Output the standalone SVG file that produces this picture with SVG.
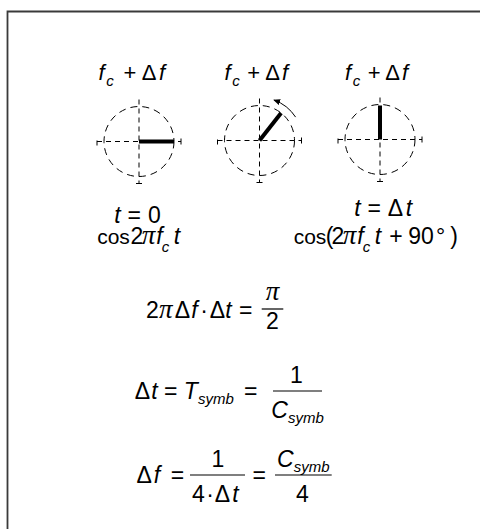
<svg xmlns="http://www.w3.org/2000/svg" width="480" height="529" viewBox="0 0 480 529">
<style>
text{font-family:"Liberation Sans",Arial,sans-serif;font-size:23px;fill:#000;text-anchor:middle}
.i{font-style:italic}
.s{font-size:15px}
.l{font-size:22px}
.c{font-size:21px}
.p{font-family:"Liberation Serif","Times New Roman",serif;font-style:italic;font-size:27px}
.st{text-anchor:start}
.ax{stroke:#000;stroke-width:1;stroke-dasharray:5 4;fill:none}
.cr{stroke:#000;stroke-width:1;stroke-dasharray:7 5;fill:none}
.tk{stroke:#000;stroke-width:1}
.ph{stroke:#000;stroke-width:4}
.bar{stroke:#000;stroke-width:1.2}
</style>
<defs>
<marker id="ah" markerWidth="8" markerHeight="8" refX="6" refY="4" orient="auto" markerUnits="userSpaceOnUse">
<path d="M0,1 L7,4 L0,7 Z" fill="#000"/>
</marker>
<g id="axes">
<line class="ax" x1="-42" y1="0" x2="42" y2="0"/>
<line class="ax" x1="0" y1="-42" x2="0" y2="42"/>
<line class="tk" x1="-42" y1="-1" x2="-42" y2="4"/>
<line class="tk" x1="42" y1="-3" x2="42" y2="3"/>
<line class="tk" x1="-3" y1="42" x2="3" y2="42"/>
<circle class="cr" cx="0" cy="0" r="35"/>
</g>
</defs>
<path d="M7.5 529 V11.5 H480" fill="none" stroke="#3a3a3a" stroke-width="1.8"/>

<g id="label1">
<text class="l i" x="101.5" y="80">f</text><text class="s i" x="110" y="86">c</text><text class="l" x="130" y="80">+</text><text class="l" x="149.2" y="80">Δ</text><text class="l i" x="162" y="80">f</text>
</g>
<g id="label2">
<text class="l i" x="227.5" y="80">f</text><text class="s i" x="236" y="86">c</text><text class="l" x="253.8" y="80">+</text><text class="l" x="272.5" y="80">Δ</text><text class="l i" x="285" y="80">f</text>
</g>
<g id="label3">
<text class="l i" x="348" y="80">f</text><text class="s i" x="356.5" y="86">c</text><text class="l" x="374.2" y="80">+</text><text class="l" x="392.5" y="80">Δ</text><text class="l i" x="405" y="80">f</text>
</g>

<g id="phasor1" transform="translate(139,141.5)">
<use href="#axes"/>
<line class="ph" x1="0" y1="0" x2="35" y2="0"/>
</g>
<g id="phasor2" transform="translate(259.5,140.5)">
<use href="#axes"/>
<line class="ph" x1="0" y1="0" x2="21.6" y2="-27.6"/>
<path d="M36.1 -23.4 A43 43 0 0 0 14.6 -40.4" fill="none" stroke="#000" stroke-width="1" marker-end="url(#ah)"/>
</g>
<g id="phasor3" transform="translate(380,139.5)">
<use href="#axes"/>
<line class="ph" x1="0" y1="0" x2="0" y2="-34"/>
</g>

<g id="caption1">
<text class="i" x="117.5" y="223">t</text><text x="134.2" y="223">=</text><text x="154.5" y="223">0</text>
<text class="c" x="113.5" y="244">cos</text><text x="137" y="244">2</text><text class="p" x="148.5" y="244">π</text><text class="i" x="159.5" y="244">f</text><text class="s i" x="165.5" y="251.5">c</text><text class="i" x="177" y="244">t</text>
</g>
<g id="caption3">
<text class="i" x="357.5" y="216">t</text><text x="374.2" y="216">=</text><text x="395.5" y="216">Δ</text><text class="i" x="409" y="216">t</text>
<text class="c" x="310" y="244">cos</text><text x="329.5" y="244">(</text><text x="338" y="244">2</text><text class="p" x="349.5" y="244">π</text><text class="i" x="360.5" y="244">f</text><text class="s i" x="366.5" y="251.5">c</text><text class="i" x="378" y="244">t</text><text x="396" y="244">+</text><text x="421" y="244">90</text><text x="440.5" y="244">°</text><text x="454" y="244">)</text>
</g>

<g id="eq1">
<text x="152.5" y="318">2</text><text class="p" x="165.8" y="318">π</text><text x="182.5" y="318">Δ</text><text class="i" x="194.5" y="318">f</text><text x="204" y="318">·</text><text x="217.5" y="318">Δ</text><text class="i" x="228.5" y="318">t</text><text x="245.8" y="318">=</text>
<line class="bar" x1="261.7" y1="309" x2="283.3" y2="309"/>
<text class="p" x="272.5" y="300">π</text><text x="272.5" y="328.5">2</text>
</g>

<g id="eq2">
<text x="142.5" y="399">Δ</text><text class="i" x="154.5" y="399">t</text><text x="170.8" y="399">=</text><text class="i" x="190.8" y="399">T</text><text class="s i st" x="198" y="404">symb</text><text x="250.8" y="399">=</text>
<line class="bar" x1="273" y1="391" x2="322" y2="391"/>
<text x="296.5" y="383">1</text>
<text class="i" x="297.5" y="418">C<tspan class="s" dy="5">symb</tspan></text>
</g>

<g id="eq3">
<text x="144.2" y="483">Δ</text><text class="i" x="157" y="483">f</text><text x="177.5" y="483">=</text>
<line class="bar" x1="190" y1="475" x2="245" y2="475"/>
<text x="218" y="466.7">1</text>
<text x="198.3" y="501.5">4</text><text x="210" y="501.5">·</text><text x="222.5" y="501.5">Δ</text><text class="i" x="235.5" y="501.5">t</text>
<text x="259.2" y="483">=</text>
<line class="bar" x1="275" y1="475" x2="331.7" y2="475"/>
<text class="i" x="303.3" y="466.7">C<tspan class="s" dy="5">symb</tspan></text>
<text x="302.5" y="501.5">4</text>
</g>
</svg>
